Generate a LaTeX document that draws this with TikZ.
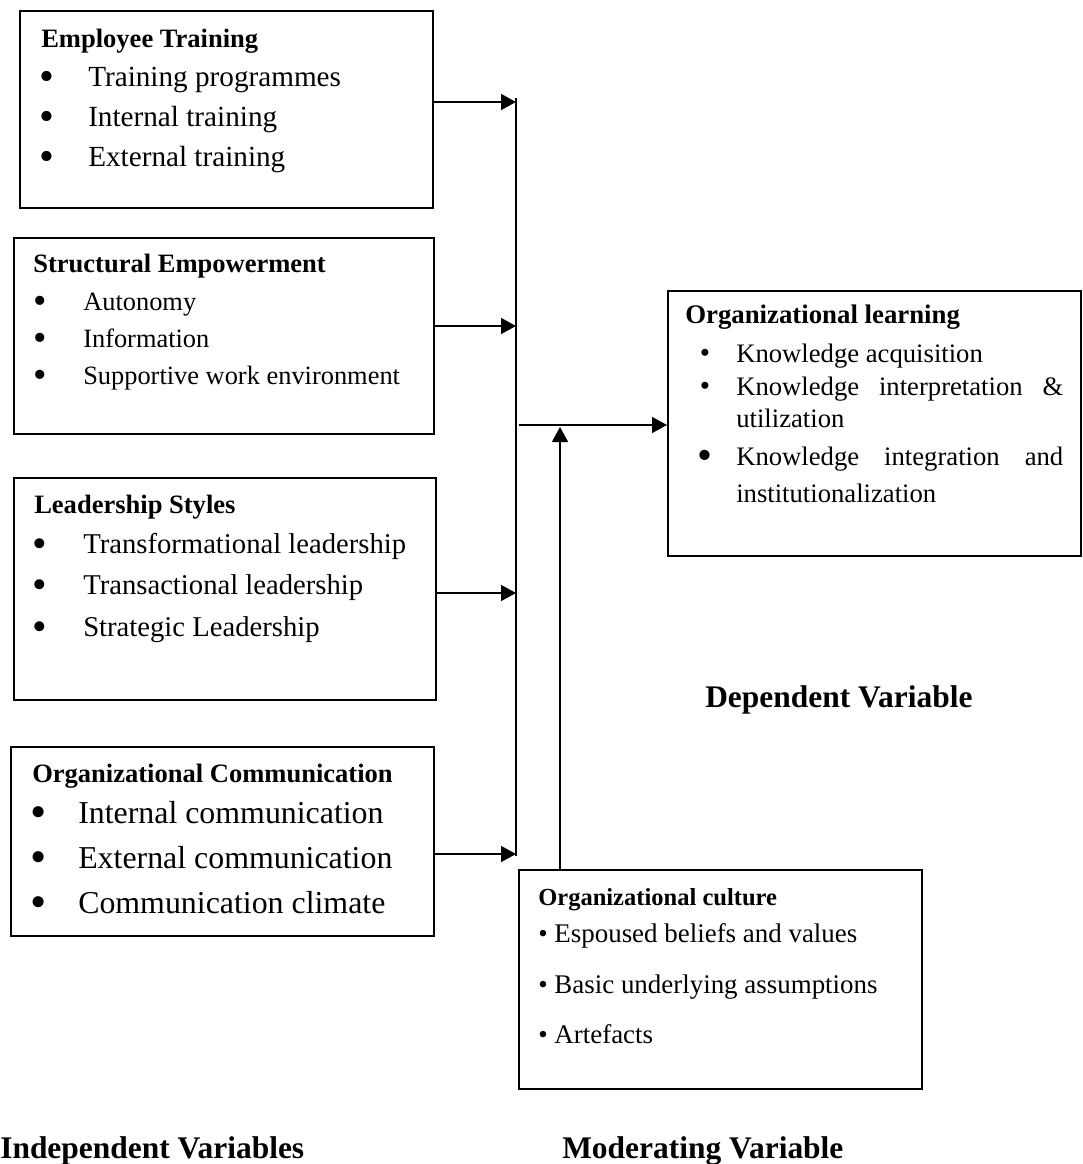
\documentclass[tikz,border=0pt]{standalone}
\usepackage{fontspec}
\setmainfont{Liberation Serif}
\usetikzlibrary{arrows.meta}
\newcommand{\fs}[1]{\fontsize{#1}{#1}\selectfont}
\begin{document}
\begin{tikzpicture}[x=0.75pt,y=-0.75pt,
  vbox/.style={draw, line width=1.5pt, inner sep=0pt, anchor=north west},
  txt/.style={anchor=base west, inner sep=0pt},
  bul/.style={anchor=base, inner sep=0pt},
  conn/.style={line width=1.1pt},
  arr/.style={line width=1.1pt, -{Triangle[length=11.25pt,width=12pt]}}]
\useasboundingbox (0,0) rectangle (1082,1164);

% ---------- boxes ----------
\node[vbox, minimum width=413*0.75pt, minimum height=197*0.75pt] (b1) at (19,10) {};
\node[vbox, minimum width=420*0.75pt, minimum height=196*0.75pt] (b2) at (13,237) {};
\node[vbox, minimum width=422*0.75pt, minimum height=222*0.75pt] (b3) at (13,477) {};
\node[vbox, minimum width=423*0.75pt, minimum height=189*0.75pt] (b4) at (10,746) {};
\node[vbox, minimum width=413*0.75pt, minimum height=265*0.75pt] (ol) at (667,290) {};
\node[vbox, minimum width=403*0.75pt, minimum height=219*0.75pt] (mod) at (518,869) {};

% ---------- box 1 ----------
\node[txt] (b1h) at (41,47) {\fs{19.9}\bfseries Employee Training};
\node[bul, yshift=-3.1pt] (b1a) at (47,86) {\fs{31.8}•};
\node[bul, yshift=-3.1pt] (b1b) at (47,126) {\fs{31.8}•};
\node[bul, yshift=-3.1pt] (b1c) at (47,166) {\fs{31.8}•};
\node[txt] (b1at) at (88,86) {\fs{21.9}Training programmes};
\node[txt] (b1bt) at (88,126) {\fs{21.9}Internal training};
\node[txt] (b1ct) at (88,166) {\fs{21.9}External training};

% ---------- box 2 ----------
\node[txt] (b2h) at (33,272) {\fs{19.9}\bfseries Structural Empowerment};
\node[bul, yshift=-2.8pt] (b2a) at (40,310) {\fs{28.7}•};
\node[bul, yshift=-2.8pt] (b2b) at (40,347) {\fs{28.7}•};
\node[bul, yshift=-2.8pt] (b2c) at (40,384) {\fs{28.7}•};
\node[txt] (b2at) at (83,310) {\fs{19.8}Autonomy};
\node[txt] (b2bt) at (83,347) {\fs{19.8}Information};
\node[txt] (b2ct) at (83,384) {\fs{19.8}Supportive work environment};

% ---------- box 3 ----------
\node[txt] (b3h) at (34,513) {\fs{19.9}\bfseries Leadership Styles};
\node[bul, yshift=-3pt] (b3a) at (40,553) {\fs{31.2}•};
\node[bul, yshift=-3pt] (b3b) at (40,594) {\fs{31.2}•};
\node[bul, yshift=-3pt] (b3c) at (40,636) {\fs{31.2}•};
\node[txt] (b3at) at (83,553) {\fs{21.5}Transformational leadership};
\node[txt] (b3bt) at (83,594) {\fs{21.5}Transactional leadership};
\node[txt] (b3ct) at (83,636) {\fs{21.5}Strategic Leadership};

% ---------- box 4 ----------
\node[txt] (b4h) at (32,782) {\fs{19.9}\bfseries Organizational Communication};
\node[bul, yshift=-3.3pt] (b4a) at (39,823) {\fs{34.7}•};
\node[bul, yshift=-3.3pt] (b4b) at (39,868) {\fs{34.7}•};
\node[bul, yshift=-3.3pt] (b4c) at (39,913) {\fs{34.7}•};
\node[txt] (b4at) at (78,823) {\fs{23.9}Internal communication};
\node[txt] (b4bt) at (78,868) {\fs{23.9}External communication};
\node[txt] (b4ct) at (78,913) {\fs{23.9}Communication climate};

% ---------- organizational learning ----------
\node[txt] (olh) at (685,323) {\fs{20.1}\bfseries Organizational learning};
\node[bul] (ola) at (705,362) {\fs{22}•};
\node[bul] (olb) at (705,395) {\fs{22}•};
\node[bul, yshift=-3.4pt] (olc) at (705,465) {\fs{32}•};
\node[txt] (olat) at (736,362) {\fs{20}Knowledge acquisition};
\node[txt] (olbt) at (736,395) {\fs{20}\makebox[245.25pt][s]{Knowledge\hfill interpretation\hfill \&}};
\node[txt] (olbt2) at (736,427) {\fs{20}utilization};
\node[txt] (olct) at (736,465) {\fs{20}\makebox[245.25pt][s]{Knowledge\hfill integration\hfill and}};
\node[txt] (olct2) at (736,502) {\fs{20}institutionalization};

% ---------- moderating ----------
\node[txt] (modh) at (538,905) {\fs{18.4}\bfseries Organizational culture};
\node[txt] (moda) at (538,942) {\fs{20.2}• Espoused beliefs and values};
\node[txt] (modb) at (538,993) {\fs{20.2}• Basic underlying assumptions};
\node[txt] (modc) at (538,1043) {\fs{20.2}• Artefacts};

% ---------- labels ----------
\node[txt] (dep) at (705,707) {\fs{23.6}\bfseries Dependent Variable};
\node[txt] (ind) at (0,1158) {\fs{23.6}\bfseries Independent Variables};
\node[txt] (mv) at (562,1158) {\fs{23.6}\bfseries Moderating Variable};

% ---------- connectors ----------
\coordinate (bustop) at (516,98);
\coordinate (busbot) at (516,856);
\coordinate (j1) at (516,102);
\coordinate (j2) at (516,326);
\coordinate (j3) at (516,593);
\coordinate (j4) at (516,854);
\coordinate (hs) at (519,425);
\coordinate (mt) at (560,427);
\draw[conn] (bustop) -- (busbot);
\draw[arr] (b1.east |- j1) -- (j1);
\draw[arr] (b2.east |- j2) -- (j2);
\draw[arr] (b3.east |- j3) -- (j3);
\draw[arr] (b4.east |- j4) -- (j4);
\draw[arr] (hs) -- (ol.west |- hs);
\draw[arr] (mod.north -| mt) -- (mt);
\end{tikzpicture}
\end{document}
